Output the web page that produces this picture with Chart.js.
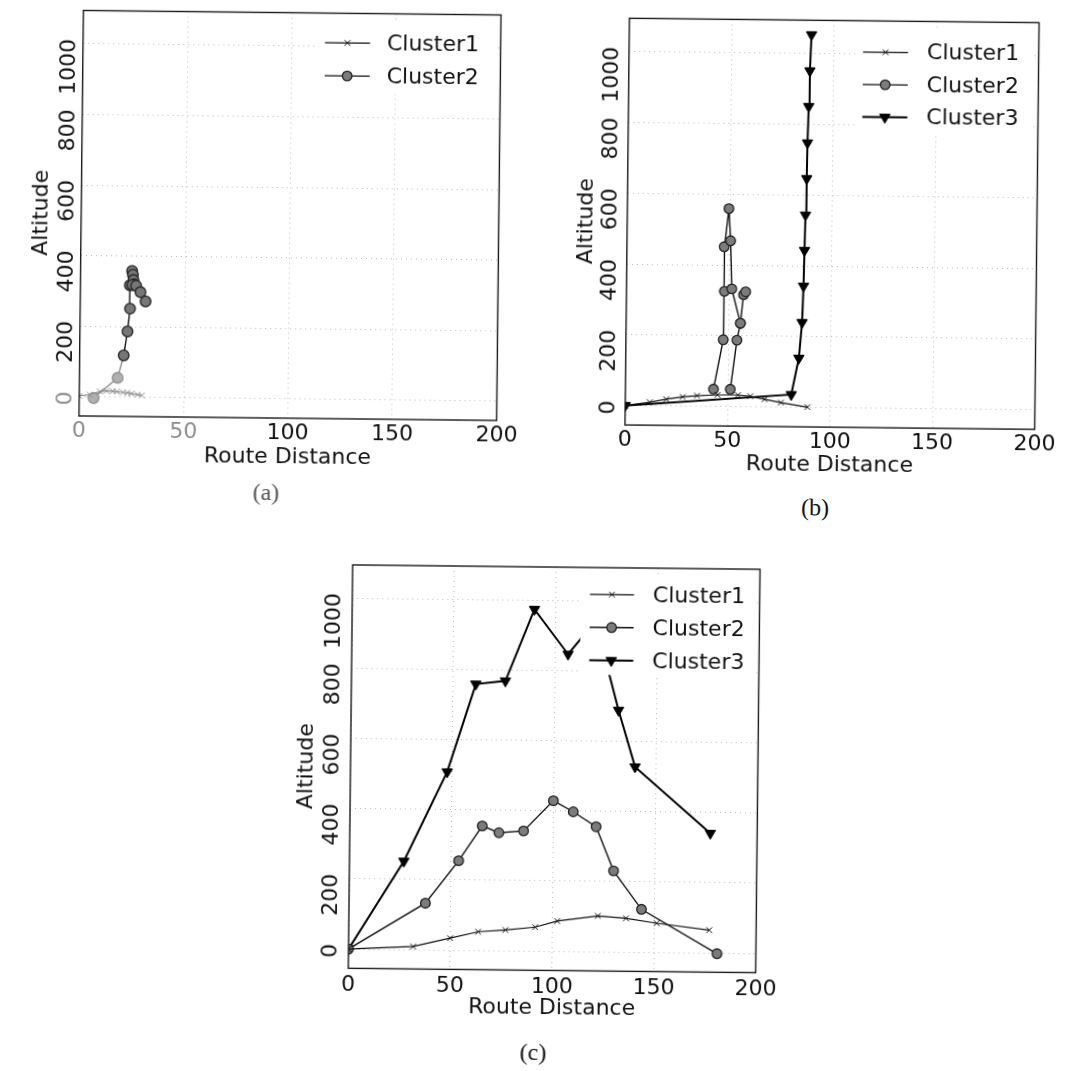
<!DOCTYPE html>
<html>
<head>
<meta charset="utf-8">
<script src="https://cdn.jsdelivr.net/npm/chart.js@4.4.1/dist/chart.umd.min.js"></script>
<style>
  html, body { margin:0; padding:0; background:#fff; width:1091px; height:1071px; overflow:hidden; }
  #page { position:absolute; left:0; top:0; width:1091px; height:1071px;
          transform: rotate(0.62deg); transform-origin: 545.5px 535.5px; }
  #page canvas { position:absolute; }
  .cap { position:absolute; font-family:"Liberation Serif","DejaVu Serif",serif; font-size:24px;
         transform:translate(-50%,-50%); white-space:nowrap; }
</style>
</head>
<body>
<div id="page">
  <canvas id="chartA" width="540" height="490" style="left:0px;top:0px"></canvas>
  <canvas id="chartB" width="551" height="490" style="left:540px;top:0px"></canvas>
  <canvas id="chartC" width="540" height="500" style="left:260px;top:540px"></canvas>
  <div class="cap" style="left:265.5px;top:495px;color:#555">(a)</div>
  <div class="cap" style="left:814.7px;top:505px;color:#111">(b)</div>
  <div class="cap" style="left:538.6px;top:1052px;color:#111">(c)</div>
</div>
<script>
// ---------- axis definitions ----------
const xTicks = [0, 50, 100, 150, 200];
const yTicks = [0, 200, 400, 600, 800, 1000];
const xLimits = [0, 200];
const yLimits = [-55, 1095];
const xLabel = 'Route Distance';
const yLabel = 'Altitude';
const seriesNames = ['Cluster1', 'Cluster2', 'Cluster3'];

// ---------- (a) ----------
const aC1x = [0, 5, 10, 13, 16, 18, 21, 23, 25, 28, 30];
const aC1y = [2, 6, 15, 17, 16, 15, 13, 12, 10, 7, 5];
const aC2x = [6.9, 18.3, 21.1, 22.8, 23.9, 23.7, 24.7, 25.1, 25.4, 25.8, 24.9, 26.7, 28.8, 31.3];
const aC2y = [-4, 54, 118, 186, 251, 317, 358, 347, 332, 320, 318, 316, 298, 272];

// ---------- (b) ----------
const bC1x = [0, 12, 20, 28, 35, 45, 55, 61, 68, 76, 89];
const bC1y = [0, 10, 19, 26, 30, 33, 33, 30, 22, 13, 1];
const bC2x = [43, 47.5, 47.8, 47.5, 49.6, 50.6, 51.4, 55.8, 57.2, 58.2, null, 51.2, 54.2, 55.8];
const bC2y = [49, 189, 326, 452, 560, 469, 333, 236, 317, 325, null, 49, 188, 236];
const bC3x = [0, 81, 84.5, 85.9, 86.4, 86.7, 87, 87.4, 87.6, 88, 88.4, 89];
const bC3y = [0, 36, 139, 240, 343, 444, 544, 647, 748, 851, 952, 1054];

// ---------- (c) ----------
const cC1x = [0, 31.7, 49.8, 63.5, 76.9, 91.5, 102.3, 122.2, 136, 151.1, 177];
const cC1y = [0, 9, 34, 53, 59, 68, 86, 102, 96, 83, 65];
const cC2x = [0, 37.5, 53.6, 65, 73.2, 85.3, 99.8, 109.6, 120.9, 129.7, 143.6, 180.9];
const cC2y = [0, 133, 255, 355, 336, 342, 429, 398, 356, 231, 122, -2];
const cC3x = [0, 26.7, 47.5, 61.1, 75.6, 89.5, 106.2, 119.5, 131.3, 139.7, 177];
const cC3y = [0, 252, 508, 759, 769, 974, 847, 942, 689, 528, 341];

// ---------- styles ----------
const FONT = "'DejaVu Sans', 'Noto Sans', sans-serif";
const TEXT = '#111';
const GRID = 'rgba(0,0,0,0.26)';
const STYLE = {
  Cluster1: { borderColor:'#111', borderWidth:1.2, pointStyle:'crossRot', pointRadius:4,
              pointBorderWidth:1, pointBackgroundColor:'#111', pointBorderColor:'#111', pointRotation:0 },
  Cluster2: { borderColor:'#111', borderWidth:1.4, pointStyle:'circle', pointRadius:4.8,
              pointBorderWidth:1.3, pointBackgroundColor:'#7c7c7c', pointBorderColor:'#222', pointRotation:0 },
  Cluster3: { borderColor:'#000', borderWidth:2, pointStyle:'triangle', pointRadius:6,
              pointBorderWidth:1, pointBackgroundColor:'#000', pointBorderColor:'#000', pointRotation:180 }
};

// frame + in-axes legend (drawn over the data, like a matplotlib legend with white face)
const frameLegend = {
  id: 'frameLegend',
  afterDatasetsDraw(chart, args, o) {
    const { ctx, chartArea: a } = chart;
    ctx.save();
    ctx.fillStyle = '#fff';
    ctx.fillRect(a.right - o.boxL, a.top + o.boxT, o.boxL - o.boxR, o.boxB - o.boxT);
    chart.data.datasets.forEach((ds, i) => {
      const st = STYLE[ds.label];
      const y = a.top + o.row1 + i * o.gap;
      ctx.strokeStyle = st.borderColor;
      ctx.lineWidth = st.borderWidth;
      ctx.beginPath();
      ctx.moveTo(a.right - o.lineStart, y);
      ctx.lineTo(a.right - o.lineEnd, y);
      ctx.stroke();
      ctx.fillStyle = st.pointBackgroundColor;
      ctx.strokeStyle = st.pointBorderColor;
      ctx.lineWidth = st.pointBorderWidth;
      Chart.helpers.drawPoint(ctx, { pointStyle: st.pointStyle, radius: st.pointRadius,
        borderWidth: st.pointBorderWidth, rotation: st.pointRotation },
        a.right - (o.lineStart + o.lineEnd) / 2, y);
      ctx.fillStyle = TEXT;
      ctx.font = '22px ' + FONT;
      ctx.textAlign = 'left';
      ctx.textBaseline = 'middle';
      ctx.fillText(ds.label, a.right - o.text, y + 1);
    });
    ctx.strokeStyle = '#1a1a1a';
    ctx.lineWidth = 1.4;
    ctx.strokeRect(a.left, a.top, a.right - a.left, a.bottom - a.top);
    ctx.restore();
  }
};

function makeChart(id, series, g) {
  const datasets = series.map(s => Object.assign({
    label: s.name,
    data: s.x.map((x, i) => ({ x: x, y: s.y[i] })),
    fill: false, tension: 0, spanGaps: false
  }, STYLE[s.name], s.extra || {}));
  const font = { family: FONT, size: 22 };
  return new Chart(document.getElementById(id), {
    type: 'line',
    data: { datasets },
    options: {
      responsive: false, animation: false, devicePixelRatio: 1,
      events: [],
      layout: { padding: { left: 0, top: g.top, right: g.right, bottom: 0 } },
      plugins: { legend: { display: false }, tooltip: { enabled: false }, frameLegend: g.legend },
      scales: {
        x: {
          type: 'linear', min: xLimits[0], max: xLimits[1],
          afterBuildTicks: sc => { sc.ticks = xTicks.map(v => ({ value: v })); },
          afterFit: sc => { sc.height = g.xAxisH; sc.paddingLeft = 0; sc.paddingRight = 0; },
          ticks: { font, color: g.xTickColor || TEXT, padding: g.xTickPad, autoSkip: false,
                   minRotation: 0, maxRotation: 0, callback: v => String(v) },
          grid: { color: GRID, lineWidth: 1, drawTicks: false },
          border: { display: false, dash: [1, 4] },
          title: { display: true, text: xLabel, font, color: TEXT, padding: { top: 0, bottom: g.xTitlePad } }
        },
        y: {
          type: 'linear', min: yLimits[0], max: yLimits[1],
          afterBuildTicks: sc => { sc.ticks = yTicks.map(v => ({ value: v })); },
          afterFit: sc => { sc.width = g.yAxisW; sc.paddingTop = 0; sc.paddingBottom = 0; },
          ticks: { font, color: g.yTickColor || TEXT, padding: g.yTickPad, autoSkip: false,
                   minRotation: 90, maxRotation: 90, labelOffset: -5, callback: v => String(v) },
          grid: { color: GRID, lineWidth: 1, drawTicks: false },
          border: { display: false, dash: [1, 4] },
          title: { display: true, text: yLabel, font, color: TEXT, padding: { top: g.yTitlePad, bottom: 0 } }
        }
      }
    },
    plugins: [frameLegend]
  });
}

const FADE = '#8f8f8f';
makeChart('chartA', [
  { name: seriesNames[0], x: aC1x, y: aC1y,
    extra: { borderColor: FADE, pointBorderColor: FADE, pointBackgroundColor: FADE } },
  { name: seriesNames[1], x: aC2x, y: aC2y,
    extra: { pointRadius: 5.3,
             segment: { borderColor: c => c.p0DataIndex < 2 ? FADE : '#111' },
             pointBackgroundColor: c => c.dataIndex < 2 ? '#b0b0b0' : '#767676',
             pointBorderColor: c => c.dataIndex < 2 ? '#909090' : '#222' } }
], { top: 15.5, right: 44.6, yAxisW: 77.7, xAxisH: 69, yTickPad: 13.8, yTitlePad: 25.3,
     xTickPad: 1.6, xTitlePad: 17,
     xTickColor: c => (c.tick && c.tick.value <= 50) ? FADE : TEXT,
     yTickColor: c => (c.tick && c.tick.value === 0) ? FADE : TEXT,
     legend: { lineStart: 175.7, lineEnd: 130.7, text: 113.7, row1: 29.6, gap: 33,
               boxL: 182, boxT: 8, boxB: 80, boxR: 5 } });

makeChart('chartB', [
  { name: seriesNames[0], x: bC1x, y: bC1y },
  { name: seriesNames[1], x: bC2x, y: bC2y },
  { name: seriesNames[2], x: bC3x, y: bC3y }
], { top: 17.4, right: 57.5, yAxisW: 83.8, xAxisH: 65.9, yTickPad: 16.4, yTitlePad: 30.4,
     xTickPad: 1.6, xTitlePad: 14.9,
     legend: { lineStart: 175.7, lineEnd: 130.7, text: 111.7, row1: 31.2, gap: 32.5,
               boxL: 182, boxT: 8, boxB: 112, boxR: 5 } });

makeChart('chartC', [
  { name: seriesNames[0], x: cC1x, y: cC1y },
  { name: seriesNames[1], x: cC2x, y: cC2y },
  { name: seriesNames[2], x: cC3x, y: cC3y }
], { top: 27, right: 39.6, yAxisW: 93, xAxisH: 69.6, yTickPad: 17.5, yTitlePad: 36.3,
     xTickPad: 3.3, xTitlePad: 18.9,
     legend: { lineStart: 169.8, lineEnd: 125.8, text: 106.8, row1: 26.8, gap: 33,
               boxL: 179, boxT: 6, boxB: 107.3, boxR: 5 } });
</script>
</body>
</html>
